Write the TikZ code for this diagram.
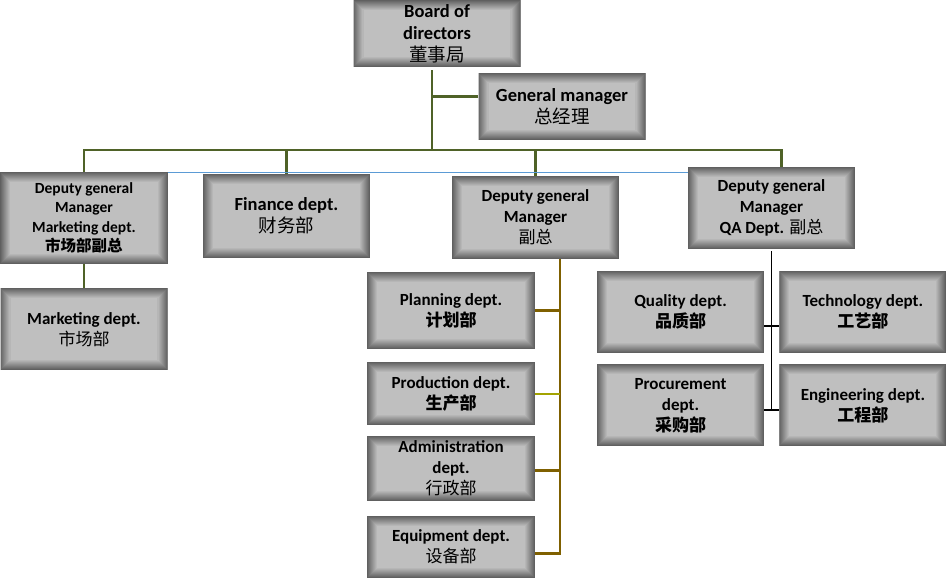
\documentclass[tikz,border=0pt]{standalone}
\usepackage{fontspec}
\setmainfont{Carlito}
\newfontfamily\cjk{Noto Sans CJK SC}
\usetikzlibrary{positioning}
\definecolor{boxgray}{HTML}{BFBFBF}
\definecolor{trunkgreen}{HTML}{4F6228}
\definecolor{branchbrown}{HTML}{7F6000}
\definecolor{brancholive}{HTML}{A3A300}
\definecolor{rulerblue}{HTML}{5B9BD5}
\newcommand{\zh}[1]{{\cjk\mdseries #1}}
\newcommand{\zhb}[1]{{\cjk\bfseries #1}}

\begin{document}
\begin{tikzpicture}[x=1pt, y=1pt,
      node distance=13pt and 15pt,
      box/.style={fill=boxgray, minimum width=167pt, minimum height=82pt, inner sep=2pt, align=center,
        font=\fontsize{17}{21}\selectfont\bfseries,
        path picture={
          \foreach \d [evaluate=\d as \c using 48+5*\d] in {0.5,1.5,...,9.5}
            \draw[line width=1.05pt, boxgray!\c!black]
              ([shift={(\d pt,\d pt)}]path picture bounding box.south west) rectangle
              ([shift={(-\d pt,-\d pt)}]path picture bounding box.north east);
        }},
      bigbox/.style={box, font=\fontsize{18.5}{22}\selectfont\bfseries},
      trunk/.style={draw=trunkgreen, line width=2.6pt},
      branch/.style={draw=branchbrown, line width=2.8pt},
      thinbranch/.style={draw=brancholive, line width=1.2pt},
      qaline/.style={draw=black, line width=1.8pt},
      ruler/.style={draw=rulerblue, line width=1.2pt}
  ]
    \useasboundingbox (0,0) rectangle (946,-579);

    \node[bigbox, minimum height=67pt] (board) at (437,-33.5) {Board of\\directors\\\zh{董事局}};
    \node[bigbox, minimum height=67pt] (gm) at (562,-106.5) {General manager\\\zh{总经理}};

    \node[box, minimum width=168pt, minimum height=92pt, font=\fontsize{15.5}{19.5}\selectfont\bfseries] (dgmMkt) at (84,-218) {Deputy general\\Manager\\Marketing dept.\\\zhb{市场部副总}};
    \node[box, below=24pt of dgmMkt] (mkt) {Marketing dept.\\\zh{市场部}};
    \node[bigbox, minimum height=84pt] (fin) at (286.5,-216) {Finance dept.\\\zh{财务部}};

    \node[box, minimum height=83pt] (dgmProd) at (535.5,-217.5) {Deputy general\\Manager\\\zh{副总}};
    \node[box, minimum width=168pt, minimum height=77pt] (plan) at (451,-310.5) {Planning dept.\\\zhb{计划部}};
    \node[box, minimum width=168pt, minimum height=63pt, below=13pt of plan] (prod) {Production dept.\\\zhb{生产部}};
    \node[box, minimum width=168pt, minimum height=65pt, below=10pt of prod] (admin) {Administration\\dept.\\\zh{行政部}};
    \node[box, minimum width=168pt, minimum height=62pt, below=15pt of admin] (equip) {Equipment dept.\\\zh{设备部}};

    \node[box] (dgmQA) at (771.5,-208) {Deputy general\\Manager\\QA Dept. \zh{副总}};
    \node[box] (qual) at (680.5,-312) {Quality dept.\\\zhb{品质部}};
    \node[box, right=of qual] (tech) {Technology dept.\\\zhb{工艺部}};
    \node[box, below=11pt of qual] (proc) {Procurement\\dept.\\\zhb{采购部}};
    \node[box, right=of proc] (eng) {Engineering dept.\\\zhb{工程部}};

    \coordinate (hub) at (432,-150);
    \draw[trunk] ([xshift=-5pt,yshift=-3pt]board.south) -- (hub);
    \draw[trunk] ([yshift=10pt]gm.west) -- ([yshift=10pt]gm.west -| hub);
    \draw[trunk] (dgmMkt.north) -- (dgmMkt.north |- hub) -- ([xshift=10pt]dgmQA.north |- hub) -- ([xshift=10pt]dgmQA.north);
    \draw[trunk] (fin.north) -- (fin.north |- hub);
    \draw[trunk] (dgmProd.north) -- (dgmProd.north |- hub);
    \draw[trunk] (dgmMkt.south) -- (mkt.north);
    \draw[ruler] ([yshift=-1pt]dgmMkt.north east) -- ([yshift=-1pt]dgmMkt.north east -| dgmQA.west);

    \draw[branch] ([xshift=24.5pt]dgmProd.south) coordinate (drop) |- ([yshift=-6pt]equip.east);
    \draw[branch] (plan.east) -- (plan.east -| drop);
    \draw[thinbranch] (prod.east) -- (prod.east -| drop);
    \draw[branch] ([yshift=-2.5pt]admin.east) -- ([yshift=-2.5pt]admin.east -| drop);

    \draw[qaline] ([yshift=-2pt]dgmQA.south) -- ([yshift=-4.5pt]dgmQA.south |- proc.east);
    \draw[qaline] ([yshift=-14pt]qual.east) -- ([yshift=-14pt]tech.west);
    \draw[qaline] ([yshift=-4.5pt]proc.east) -- ([yshift=-4.5pt]eng.west);
  \end{tikzpicture}
\end{document}
